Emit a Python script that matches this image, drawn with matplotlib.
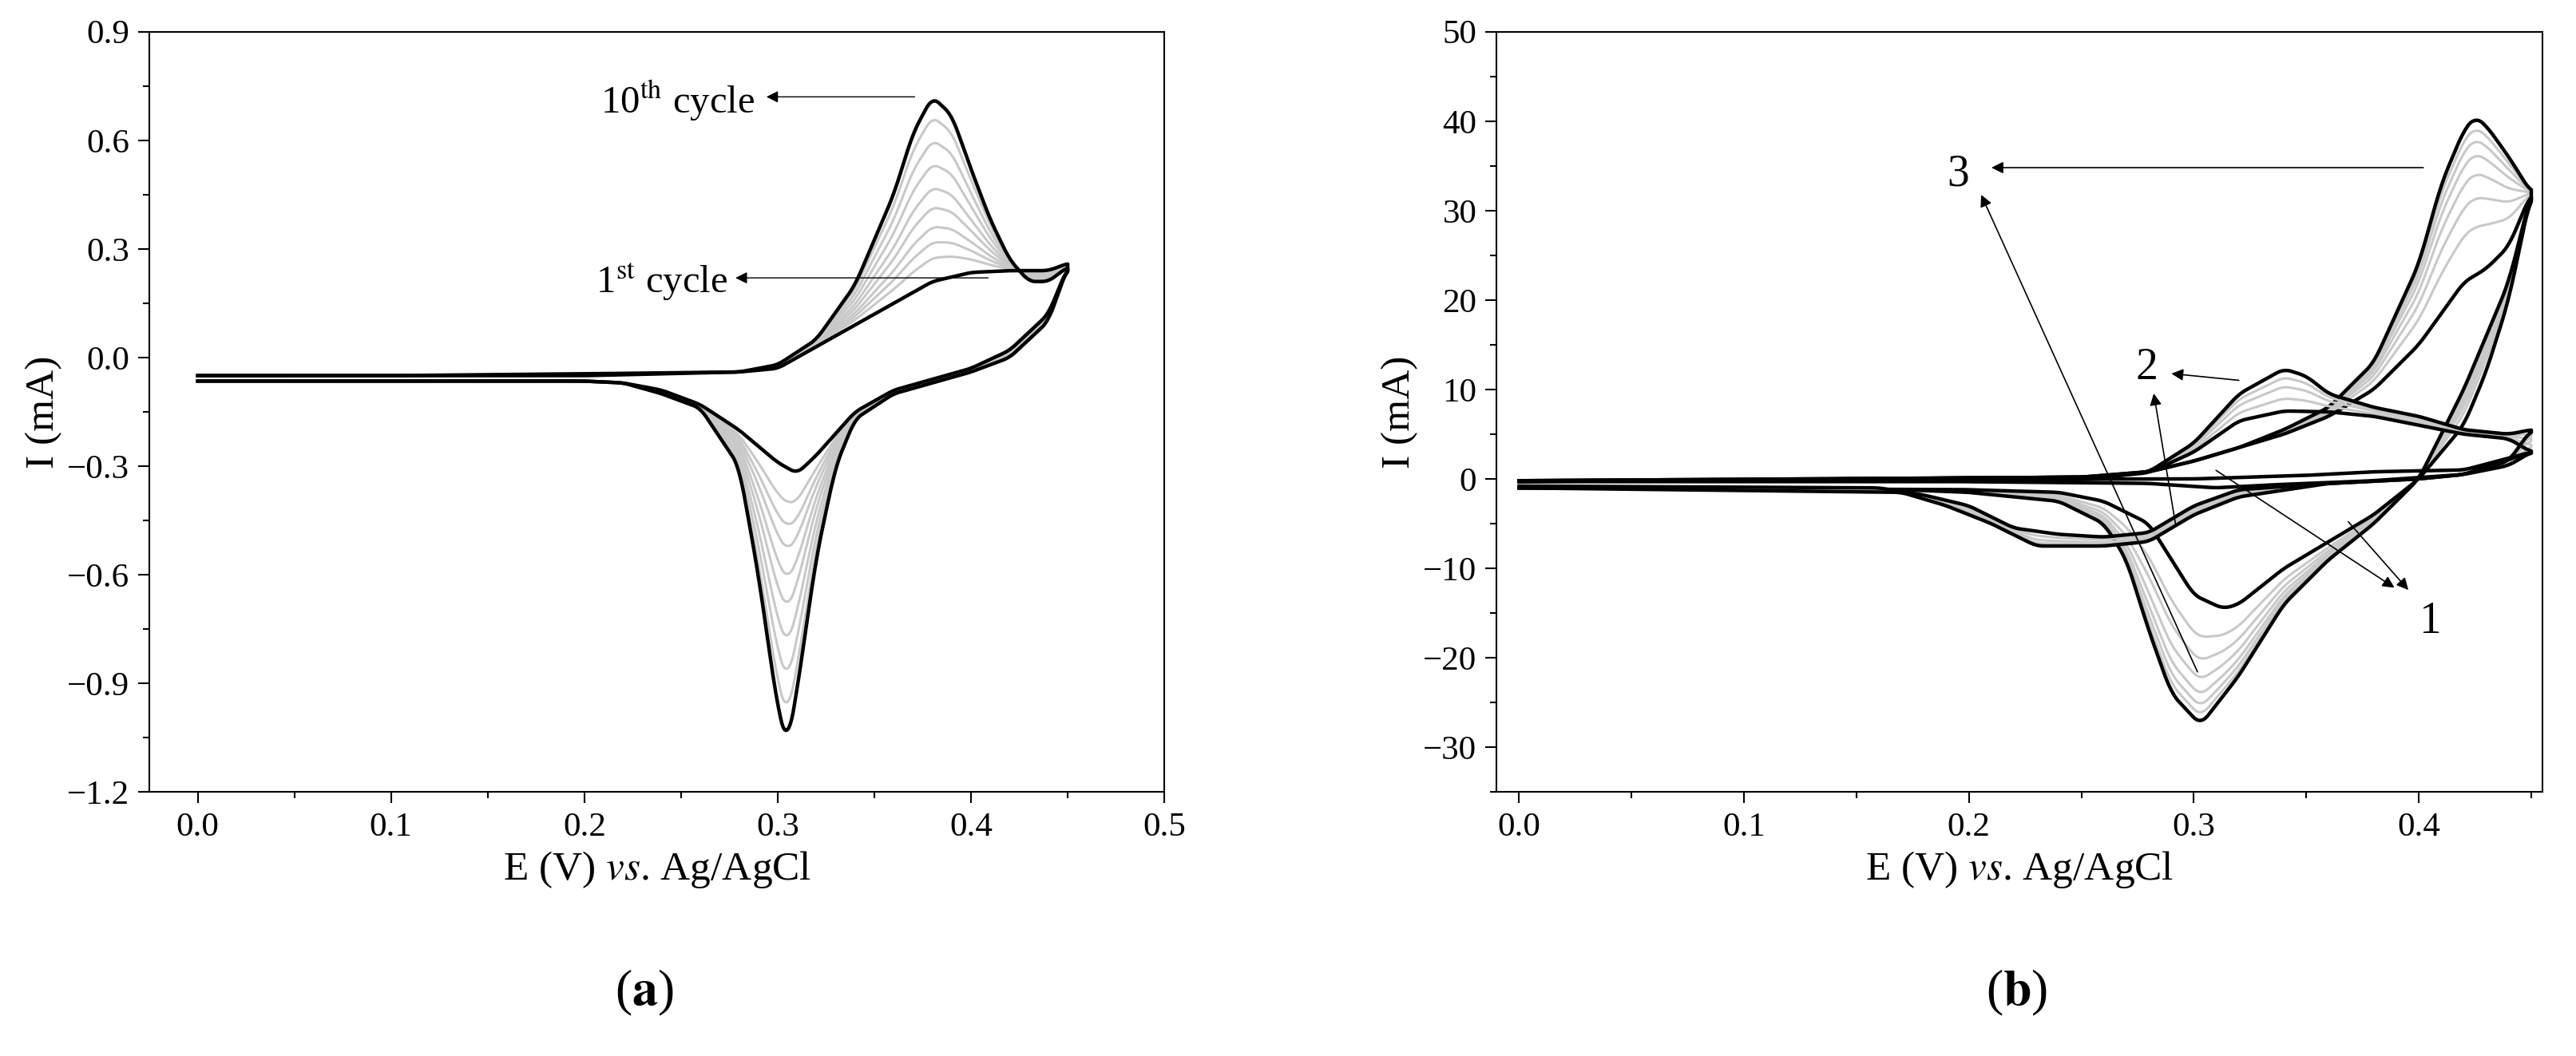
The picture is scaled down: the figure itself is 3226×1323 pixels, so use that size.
import numpy as np
import matplotlib.pyplot as plt
from matplotlib.ticker import MultipleLocator

plt.rcParams['font.family'] = ['Liberation Serif', 'DejaVu Serif']
plt.rcParams['mathtext.fontset'] = 'stix'

# ---- panel (a): first and tenth cycle, forward and reverse sweeps ----
a1_fE = [0, 0.1, 0.2, 0.28, 0.30, 0.32, 0.34, 0.36, 0.38, 0.40, 0.42, 0.44, 0.45]
a1_fI = [-0.05, -0.05, -0.045, -0.04, -0.03, 0.03, 0.09, 0.15, 0.21, 0.235, 0.24, 0.24, 0.26]
a1_rE = [0.45, 0.44, 0.42, 0.40, 0.38, 0.36, 0.34, 0.32, 0.31, 0.30, 0.28, 0.26, 0.24, 0.22, 0.2, 0]
a1_rI = [0.25, 0.12, 0.02, -0.03, -0.06, -0.09, -0.15, -0.27, -0.32, -0.29, -0.2, -0.13, -0.09, -0.07, -0.065, -0.065]

a10_fE = [0, 0.2, 0.28, 0.30, 0.32, 0.34, 0.36, 0.37, 0.38, 0.39, 0.40, 0.41, 0.42, 0.43, 0.44, 0.45]
a10_fI = [-0.05, -0.05, -0.04, -0.02, 0.05, 0.2, 0.45, 0.62, 0.72, 0.67, 0.52, 0.38, 0.27, 0.21, 0.21, 0.25]
a10_rE = [0.45, 0.44, 0.42, 0.40, 0.38, 0.36, 0.34, 0.33, 0.32, 0.31, 0.305, 0.30, 0.29, 0.28, 0.26, 0.24, 0.22, 0.2, 0]
a10_rI = [0.25, 0.1, 0.0, -0.04, -0.07, -0.1, -0.17, -0.3, -0.55, -0.92, -1.07, -0.97, -0.6, -0.3, -0.14, -0.1, -0.07, -0.065, -0.065]

# anodic peak currents of cycles 2-9 (gray)
a_mid_peaks = [0.30, 0.34, 0.38, 0.43, 0.48, 0.54, 0.60, 0.66]

# ---- panel (b): three sets of cycles ----
b3_first_fE = [0, 0.25, 0.28, 0.30, 0.32, 0.34, 0.36, 0.38, 0.40, 0.42, 0.43, 0.44, 0.45]
b3_first_fI = [-0.3, 0.2, 0.8, 2, 3.5, 5, 7, 10, 15, 22, 23.5, 26, 32]
b3_first_rE = [0.45, 0.44, 0.43, 0.42, 0.40, 0.38, 0.36, 0.34, 0.32, 0.313, 0.30, 0.29, 0.28, 0.26, 0.24, 0.2, 0]
b3_first_rI = [32, 20, 12, 6, 0, -4, -7, -10, -14, -14.5, -13, -9, -5, -2.5, -1.5, -1.2, -1.0]
b3_last_fE = [0, 0.25, 0.28, 0.30, 0.32, 0.34, 0.36, 0.38, 0.40, 0.41, 0.42, 0.425, 0.43, 0.44, 0.45]
b3_last_fI = [-0.3, 0.2, 0.8, 2, 3.5, 5.5, 8, 13, 24, 33, 39, 40.5, 39.5, 36, 32]
b3_last_rE = [0.45, 0.44, 0.42, 0.40, 0.38, 0.36, 0.34, 0.32, 0.303, 0.29, 0.28, 0.27, 0.26, 0.24, 0.2, 0.17, 0]
b3_last_rI = [32, 22, 10, 0, -5, -9, -14, -22, -27.5, -24, -17, -9, -5, -2.5, -1.5, -1.2, -1.0]
b3_mid_peaks = [29, 32, 34.5, 36.5, 38, 39.2]

b2_first_fE = [0, 0.26, 0.28, 0.30, 0.32, 0.34, 0.36, 0.38, 0.40, 0.42, 0.44, 0.45]
b2_first_fI = [-0.2, 0.2, 0.7, 3, 6.5, 7.6, 7.5, 7, 6, 5, 4.5, 3]
b2_first_rE = [0.45, 0.44, 0.42, 0.40, 0.36, 0.32, 0.30, 0.28, 0.26, 0.24, 0.22, 0.20, 0.18, 0.16, 0]
b2_first_rI = [3, 1.5, 0.5, 0, -0.5, -1.2, -3, -6, -6.5, -6.2, -5.5, -3, -1.8, -1.0, -0.8]
b2_last_fE = [0, 0.26, 0.28, 0.30, 0.32, 0.34, 0.35, 0.36, 0.38, 0.40, 0.42, 0.44, 0.45]
b2_last_fI = [-0.2, 0.2, 0.8, 4, 9.5, 12.3, 11.5, 9.5, 8, 7, 5.5, 5, 5.5]
b2_last_rE = [0.45, 0.44, 0.42, 0.40, 0.36, 0.32, 0.30, 0.28, 0.26, 0.23, 0.21, 0.19, 0.17, 0]
b2_last_rI = [5.5, 2, 0.5, 0, -0.5, -2, -4, -7, -7.5, -7.5, -5, -3, -1.5, -1.0]
b2_mid_peaks = [9.0, 10.3, 11.3]

b1_fE = [0, 0.3, 0.35, 0.38, 0.42, 0.45]
b1_fI = [-0.2, 0.0, 0.4, 0.8, 1.0, 3.0]
b1_rE = [0.45, 0.42, 0.38, 0.34, 0.31, 0.28, 0.2, 0]
b1_rI = [3.0, 0.5, -0.2, -0.6, -1.0, -0.5, -0.3, -0.3]


def smooth(y, n=9):
    pad = np.pad(y, n // 2, mode='edge')
    return np.convolve(pad, np.ones(n) / n, mode='valid')


def sweep(fE, fI, rE, rI, grid):
    fwd = smooth(np.interp(grid, fE, fI))
    rev = smooth(np.interp(grid, rE[::-1], rI[::-1]))
    return np.concatenate([grid, grid[::-1]]), np.concatenate([fwd, rev[::-1]])


def draw_set(ax, first, last, mids, p_first, p_last, grid):
    E, I1 = sweep(*first, grid)
    _, I2 = sweep(*last, grid)
    for p in mids:
        f = (p - p_first) / (p_last - p_first)
        ax.plot(E, I1 + f * (I2 - I1), color='#c8c8c8', lw=2.2)
    ax.plot(E, I1, color='black', lw=3.2)
    ax.plot(E, I2, color='black', lw=3.2)


def style(ax):
    ax.tick_params(labelsize=31, width=1.5, length=10, direction='out', pad=8)
    ax.tick_params(which='minor', width=1.5, length=6, direction='out')
    for s in ax.spines.values():
        s.set_linewidth(1.5)
    ax.set_xlabel('E (V) $\\it{vs}$. Ag/AgCl', fontsize=37, labelpad=6)
    ax.set_ylabel('I (mA)', fontsize=37)


fig = plt.figure(figsize=(32.26, 13.23), dpi=100)
ax1 = fig.add_axes([0.058, 0.25, 0.394, 0.72])
ax2 = fig.add_axes([0.581, 0.25, 0.406, 0.72])

grid = np.linspace(0, 0.45, 600)
draw_set(ax1, (a1_fE, a1_fI, a1_rE, a1_rI), (a10_fE, a10_fI, a10_rE, a10_rI),
         a_mid_peaks, 0.24, 0.71, grid)
ax1.set_xlim(-0.025, 0.5)
ax1.set_ylim(-1.2, 0.9)
ax1.xaxis.set_major_locator(MultipleLocator(0.1))
ax1.xaxis.set_minor_locator(MultipleLocator(0.05))
ax1.yaxis.set_major_locator(MultipleLocator(0.3))
ax1.yaxis.set_minor_locator(MultipleLocator(0.15))
ax1.set_yticklabels([f'{v:.1f}'.replace('-', '\u2212') for v in ax1.get_yticks()])
style(ax1)
arr = dict(arrowstyle='-|>', color='black', lw=1, mutation_scale=22)
ax1.annotate('', xy=(0.293, 0.72), xytext=(0.372, 0.72), arrowprops=arr)
ax1.text(0.248, 0.71, '10$^{\\mathrm{th}}$ cycle', fontsize=35, ha='center', va='center')
ax1.annotate('', xy=(0.277, 0.22), xytext=(0.41, 0.22), arrowprops=arr)
ax1.text(0.24, 0.21, '1$^{\\mathrm{st}}$ cycle', fontsize=35, ha='center', va='center')

draw_set(ax2, (b3_first_fE, b3_first_fI, b3_first_rE, b3_first_rI),
         (b3_last_fE, b3_last_fI, b3_last_rE, b3_last_rI), b3_mid_peaks, 24, 40.3, grid)
draw_set(ax2, (b2_first_fE, b2_first_fI, b2_first_rE, b2_first_rI),
         (b2_last_fE, b2_last_fI, b2_last_rE, b2_last_rI), b2_mid_peaks, 7.6, 12.2, grid)
E, I = sweep(b1_fE, b1_fI, b1_rE, b1_rI, grid)
ax2.plot(E, I, color='black', lw=3.2)
ax2.set_xlim(-0.01, 0.455)
ax2.set_ylim(-35, 50)
ax2.xaxis.set_major_locator(MultipleLocator(0.1))
ax2.xaxis.set_minor_locator(MultipleLocator(0.05))
ax2.yaxis.set_minor_locator(MultipleLocator(5))
yt = [-30, -20, -10, 0, 10, 20, 30, 40, 50]
ax2.set_yticks(yt)
ax2.set_yticklabels([str(v).replace('-', '\u2212') for v in yt])
style(ax2)
arr2 = dict(arrowstyle='-|>', color='black', lw=1.2, mutation_scale=22)
ax2.annotate('', xy=(0.209, 34.8), xytext=(0.403, 34.8), arrowprops=arr2)
ax2.annotate('', xy=(0.205, 32), xytext=(0.302, -21.8), arrowprops=arr2)
ax2.text(0.195, 34, '3', fontsize=40, ha='center', va='center')
ax2.annotate('', xy=(0.289, 11.8), xytext=(0.321, 11), arrowprops=arr2)
ax2.annotate('', xy=(0.282, 9.8), xytext=(0.292, -5.3), arrowprops=arr2)
ax2.text(0.279, 12.4, '2', fontsize=40, ha='center', va='center')
ax2.annotate('', xy=(0.390, -12.3), xytext=(0.309, 1.1), arrowprops=arr2)
ax2.annotate('', xy=(0.396, -12.6), xytext=(0.368, -4.6), arrowprops=arr2)
ax2.text(0.405, -16, '1', fontsize=40, ha='center', va='center')

fig.text(0.25, 0.06, '($\\mathbf{a}$)', fontsize=46, ha='center', va='center')
fig.text(0.783, 0.06, '($\\mathbf{b}$)', fontsize=46, ha='center', va='center')

fig.savefig('out.png', dpi=100)
